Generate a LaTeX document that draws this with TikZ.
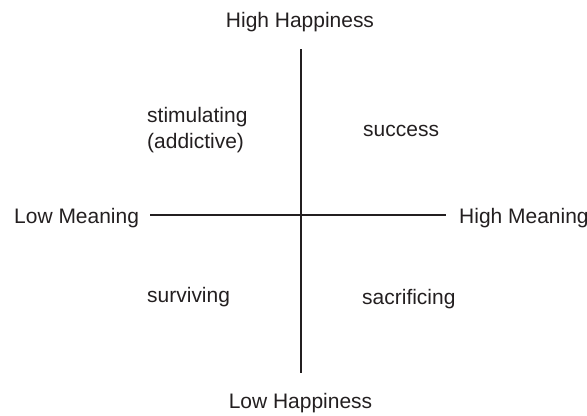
\documentclass[tikz,border=0pt]{standalone}
\usepackage{fontspec}
\setmainfont{Liberation Sans}
\usetikzlibrary{positioning}
\definecolor{ink}{HTML}{231F20}

\begin{document}
\begin{tikzpicture}[
    x=0.03cm, y=-0.03cm,
    axislabel/.style={
      text=ink,
      inner sep=0pt,
      font=\fontsize{17.9}{22.1}\selectfont
    },
    quadlabel/.style={axislabel, align=left},
    axis/.style={draw=ink, line width=2.1pt}
  ]
    \useasboundingbox (0,0) rectangle (587,415);

    \node[axislabel, anchor=base] (hihappy) at (300,27) {High Happiness};
    \node[axislabel, anchor=base] (lohappy) at (300.5,408) {Low Happiness};
    \node[axislabel, anchor=base west] (lomean) at (14,223) {Low Meaning};
    \node[axislabel, anchor=base west] (himean) at (459,223) {High Meaning};

    \node[quadlabel, anchor=base west] (stim) at (147,148) {stimulating\\(addictive)};
    \node[quadlabel, anchor=base west] (succ) at (363,136) {success};
    \node[quadlabel, anchor=base west] (surv) at (147,302) {surviving};
    \node[quadlabel, anchor=base west] (sacr) at (362,304) {sacrificing};

    \coordinate (top) at (301,49);
    \coordinate (bottom) at (301,373);
    \coordinate (left) at (150,215);
    \coordinate (right) at (446,215);

    \draw[axis] (top) -- (bottom);
    \draw[axis] (left) -- (right);
  \end{tikzpicture}
\end{document}
